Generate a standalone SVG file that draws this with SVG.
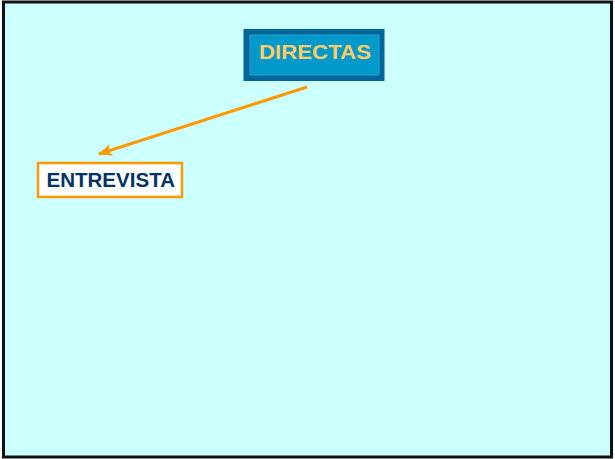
<svg xmlns="http://www.w3.org/2000/svg" width="615" height="459" viewBox="0 0 615 459">
<style>
.bold{font-family:"Liberation Sans",Arial,sans-serif;font-weight:bold}
</style>
<defs>
<marker id="ah" markerWidth="14" markerHeight="12" refX="13" refY="6" orient="auto" markerUnits="userSpaceOnUse">
<path d="M0,0 L14,6 L0,12 L3,6 Z" fill="#FF9900"/>
</marker>
</defs>
<rect x="0" y="0" width="615" height="459" fill="#ffffff"/>
<rect x="3.5" y="2" width="608" height="455" fill="#CCFFFF" stroke="#111111" stroke-width="3"/>
<g id="connectors">
<line x1="307" y1="87" x2="99" y2="154" stroke="#FF9900" stroke-width="3" marker-end="url(#ah)"/>
</g>
<g id="directas">
<rect x="243.5" y="29" width="141" height="52" fill="#006699"/>
<rect x="250" y="35" width="129" height="40" fill="#0099CC" stroke="#3399CC" stroke-width="1"/>
<text class="bold" x="259" y="58.5" font-size="20" fill="#FFCC66" textLength="112" lengthAdjust="spacingAndGlyphs">DIRECTAS</text>
</g>
<g id="entrevista">
<rect x="38" y="163" width="144" height="34" fill="#ffffff" stroke="#FF9900" stroke-width="2.5"/>
<text class="bold" x="46.5" y="187.3" font-size="19.5" fill="#003366" textLength="128.5" lengthAdjust="spacingAndGlyphs">ENTREVISTA</text>
</g>
</svg>
